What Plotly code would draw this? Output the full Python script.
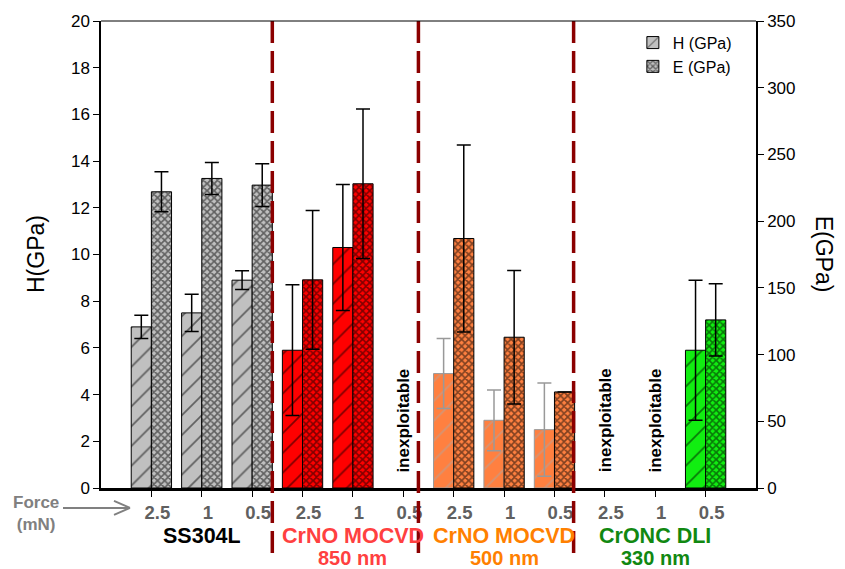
import plotly.graph_objects as go

# Indentation force (mN) per group and the four coatings/substrate
forces = ["2.5", "1", "0.5"]
materials = ["SS304L", "CrNO MOCVD", "CrNO MOCVD", "CrONC DLI"]
subtitles = ["", "850 nm", "500 nm", "330 nm"]

# Hardness (GPa, left axis) and its error, None = inexploitable
hardness = [
    [6.9, 7.5, 8.9],
    [5.9, 10.3, None],
    [4.9, 2.9, 2.5],
    [None, None, 5.9],
]
hardness_err = [
    [0.5, 0.8, 0.4],
    [2.8, 2.7, None],
    [1.5, 1.3, 2.0],
    [None, None, 3.0],
]
# Young's modulus (GPa, right axis) and its error
modulus = [
    [222, 232, 227],
    [156, 228, None],
    [187, 113, 72],
    [None, None, 126],
]
modulus_err = [
    [15, 12, 16],
    [52, 56, None],
    [70, 50, 0],
    [None, None, 27],
]

fill = ["#C0C0C0", "#FF0000", "#FF8040", "#11EE11"]
edge = ["black", "black", "#999999", "black"]
h_hatch = ["black", "black", "#A8A8A8", "black"]
label_color = ["black", "#FF4040", "#FF8000", "#118811"]

FONT = "Arial, Liberation Sans, sans-serif"
W = 0.4  # bar width in category units

fig = go.Figure()

for g, name in enumerate(materials):
    xs = [g * 3 + i for i in range(3)]
    fig.add_trace(go.Bar(
        x=xs, y=hardness[g], width=W, offset=-W,
        name="H (GPa)", legendgroup="H", showlegend=(g == 0),
        marker=dict(color=fill[g], line=dict(color=edge[g], width=1),
                    pattern=dict(shape="/", fgcolor=h_hatch[g], size=14, solidity=0.12)),
        error_y=dict(type="data", array=hardness_err[g], visible=True,
                     color=edge[g], thickness=1.5, width=7),
        yaxis="y",
    ))
    fig.add_trace(go.Bar(
        x=xs, y=modulus[g], width=W, offset=0,
        name="E (GPa)", legendgroup="E", showlegend=(g == 0),
        marker=dict(color=fill[g], line=dict(color="black", width=1),
                    pattern=dict(shape="x", fgcolor="black", size=5, solidity=0.55)),
        error_y=dict(type="data", array=modulus_err[g], visible=True,
                     color="black", thickness=1.5, width=7),
        yaxis="y2",
    ))

annotations = []

# "inexploitable" notes where no measurement could be made
for g in range(len(materials)):
    for i in range(3):
        if hardness[g][i] is None and modulus[g][i] is None:
            annotations.append(dict(
                x=g * 3 + i, y=2.9, xref="x", yref="y", text="inexploitable",
                textangle=-90, showarrow=False,
                font=dict(family=FONT, size=17, color="black", weight="bold"),
            ))

# group labels under the force ticks (two tight lines each)
for g, name in enumerate(materials):
    annotations.append(dict(
        x=g * 3 + 1, y=-0.1035, xref="x", yref="paper", text=name,
        showarrow=False, yanchor="middle", height=22, borderpad=0,
        font=dict(family=FONT, size=21.5, color=label_color[g], weight="bold"),
    ))
    if subtitles[g]:
        annotations.append(dict(
            x=g * 3 + 1, y=-0.1495, xref="x", yref="paper", text=subtitles[g],
            showarrow=False, yanchor="middle", height=22, borderpad=0,
            font=dict(family=FONT, size=20, color=label_color[g], weight="bold"),
        ))

# force caption
annotations.append(dict(
    x=-0.1, y=-0.0555, xref="paper", yref="paper", text="Force<br>(mN)",
    showarrow=False, align="center", xanchor="center", yanchor="middle",
    font=dict(family=FONT, size=17, color="#808080", weight="bold"),
))

# axis titles
annotations.append(dict(
    x=-0.1, y=0.5, xref="paper", yref="paper", text="H(GPa)", textangle=-90,
    showarrow=False, xanchor="center", yanchor="middle",
    font=dict(family=FONT, size=23, color="black"),
))
annotations.append(dict(
    x=1.105, y=0.5, xref="paper", yref="paper", text="E(GPa)", textangle=90,
    showarrow=False, xanchor="center", yanchor="middle",
    font=dict(family=FONT, size=23, color="black"),
))

# dashed separators between the material groups
separators = [2.4, 5.3, 8.38]
shapes = []
for xs in separators:
    shapes.append(dict(
        type="line", xref="x", yref="paper", x0=xs, x1=xs, y0=1.0, y1=-0.147,
        line=dict(color="#8B0000", width=3.5, dash="22px,8px"),
    ))

# frame top edge
shapes.append(dict(type="line", xref="paper", yref="paper", x0=0, x1=1, y0=1, y1=1,
                   line=dict(color="black", width=1)))

# grey arrow pointing at the force ticks
def px(xp):
    return (xp - 101) / 655


def py(yp):
    return (488 - yp) / 469


arrow = dict(color="#808080", width=2)
shapes.append(dict(type="line", xref="paper", yref="paper",
                   x0=px(63), x1=px(130), y0=py(508), y1=py(508), line=arrow))
shapes.append(dict(type="line", xref="paper", yref="paper",
                   x0=px(114), x1=px(130), y0=py(501), y1=py(508), line=arrow))
shapes.append(dict(type="line", xref="paper", yref="paper",
                   x0=px(114), x1=px(130), y0=py(515), y1=py(508), line=arrow))

fig.update_layout(
    width=845, height=569,
    margin=dict(l=101, r=89, t=19, b=81),
    paper_bgcolor="white", plot_bgcolor="white",
    font=dict(family=FONT, color="black"),
    barmode="overlay",
    showlegend=True,
    legend=dict(x=0.812, y=0.99, xanchor="left", yanchor="top",
                bgcolor="rgba(0,0,0,0)", font=dict(family=FONT, size=16),
                tracegroupgap=0, itemwidth=30),
    xaxis=dict(
        range=[-1, 12], tickmode="array",
        tickvals=list(range(12)), ticktext=forces * 4,
        ticks="outside", ticklen=6, tickwidth=1, tickcolor="black",
        showline=True, linecolor="black", linewidth=3,
        showgrid=False, zeroline=False, ticklabelshift=6,
        tickfont=dict(family=FONT, size=18.5, color="#606060", weight="bold"),
    ),
    yaxis=dict(
        range=[0, 20], dtick=2, ticks="outside", ticklen=6, tickcolor="black",
        showline=True, linecolor="black", linewidth=1.5,
        showgrid=False, zeroline=False,
        tickfont=dict(family=FONT, size=17, color="black"),
    ),
    yaxis2=dict(
        range=[0, 350], dtick=50, overlaying="y", side="right",
        ticks="outside", ticklen=6, tickcolor="black",
        showline=True, linecolor="black", linewidth=1.5,
        showgrid=False, zeroline=False,
        tickfont=dict(family=FONT, size=17, color="black"),
    ),
    annotations=annotations,
    shapes=shapes,
)

fig.write_html("out.html")
